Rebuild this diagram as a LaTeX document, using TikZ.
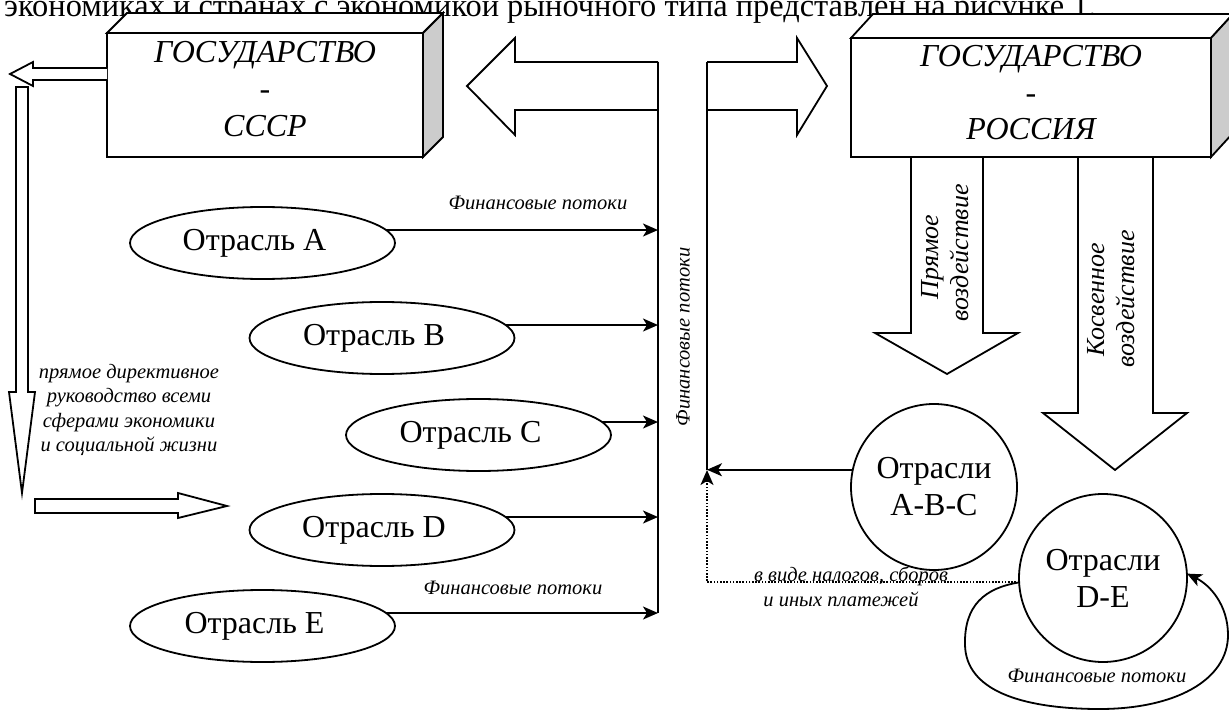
\documentclass[tikz,border=0pt]{standalone}
\usepackage{fontspec}
\setmainfont{Liberation Serif}
\usetikzlibrary{arrows.meta,shapes.geometric}
\definecolor{boxside}{gray}{0.80}
\newcommand\bigtext{\fontsize{32}{37}\selectfont}
\newcommand\smallit{\fontsize{20.5}{24.3}\selectfont\itshape}
\newcommand\sideit{\fontsize{26}{30}\selectfont\itshape}

\begin{document}
\begin{tikzpicture}[x=1pt,y=-1pt,line join=miter,
  outl/.style={draw=black,line width=1.8pt,fill=white},
  plain/.style={line width=1.8pt},
  conn/.style={line width=1.8pt,-{Stealth[length=15pt,width=13pt,inset=4pt]}},
  dots/.style={line width=1.9pt,dash pattern=on 1.6pt off 1.6pt,-{Stealth[length=15pt,width=13pt,inset=4pt]}},
  front/.style={draw,line width=1.8pt,fill=white,inner sep=0pt,outer sep=0pt},
  ell/.style={ellipse,draw,line width=1.8pt,outer sep=0pt,inner sep=0pt,
              minimum width=265pt,minimum height=72pt,font=\bigtext},
  circ/.style={circle,draw,line width=1.8pt,outer sep=0pt,inner sep=0pt,
               align=center,font=\bigtext},
  boxtxt/.style={inner sep=0pt,anchor=base,font=\bigtext\itshape},
  lbl/.style={inner sep=0pt,anchor=base,font=\smallit},
  rot/.style={inner sep=0pt,anchor=base,rotate=90,font=\sideit}]

\useasboundingbox (0,0) rectangle (1229,711);
\clip (0,0) rectangle (1229,711);

% line of running text above the figure
\node[anchor=base west,inner sep=0pt,font=\fontsize{32.4}{37}\selectfont] (intro) at (4,17)
  {экономиках и странах с экономикой рыночного типа представлен на рисунке 1.};

% ---------- state box: USSR ----------
\node[front,minimum width=316pt,minimum height=124pt] (ussr) at (265,95) {};
\draw[outl] (ussr.north west) -- ++(20,-20) -- ++(316,0) -- (ussr.north east) -- cycle;
\draw[outl,fill=boxside] (ussr.north east) -- ++(20,-20) -- ++(0,124) -- (ussr.south east) -- cycle;
\node[boxtxt] (ussr1) at (265,63) {ГОСУДАРСТВО};
\node[boxtxt] (ussr2) at (265,100) {-};
\node[boxtxt] (ussr3) at (265,137) {СССР};

% ---------- state box: Russia ----------
\node[front,minimum width=360pt,minimum height=119pt] (rus) at (1031,97.5) {};
\draw[outl] (rus.north west) -- ++(22,-24) -- ++(360,0) -- (rus.north east) -- cycle;
\draw[outl,fill=boxside] (rus.north east) -- ++(22,-24) -- ++(0,119) -- (rus.south east) -- cycle;
\node[boxtxt] (rus1) at (1031,67) {ГОСУДАРСТВО};
\node[boxtxt] (rus2) at (1031,104) {-};
\node[boxtxt] (rus3) at (1031,140) {РОССИЯ};

% ---------- hollow arrows of the directive economy ----------
\draw[outl] (ussr.west |- 0,68) -- (33,68) -- (33,62) -- (10,74) -- (33,86) -- (33,80) -- (ussr.west |- 0,80);
\draw[outl] (16,87) -- (28,87) -- (28,392) -- (35,392) -- (22,493) -- (9,392) -- (16,392) -- cycle;
\draw[outl] (35,499) -- (178,499) -- (178,493) -- (227,506) -- (178,518) -- (178,513) -- (35,513) -- cycle;
\node[inner sep=0pt,align=center,font=\smallit] (directive) at (129,410)
  {прямое директивное\\руководство всеми\\сферами экономики\\и социальной жизни};

% ---------- big hollow arrows at the top ----------
\coordinate (lx) at (658,0);
\coordinate (rx) at (707,0);
\coordinate (jn) at (707,470);
\draw[outl] (658,62) -- (515,62) -- (515,38) -- (467,86) -- (515,135) -- (515,110) -- (658,110);
\draw[outl] (707,62) -- (797,62) -- (797,38) -- (827,86) -- (797,135) -- (797,110) -- (707,110);

% collector lines
\draw[plain] (lx |- 0,62) -- (lx |- 0,613);
\draw[plain] (rx |- 0,62) -- (jn);
\node[inner sep=0pt,rotate=90,font=\smallit] (flowv) at (683,337) {Финансовые потоки};

% ---------- branches (labels sit a little left of centre) ----------
\node[ell] (A) at (262.5,243) {Отрасль A\hspace*{16pt}};
\node[ell] (B) at (382,338) {Отрасль B\hspace*{16pt}};
\node[ell] (C) at (478.5,435) {Отрасль C\hspace*{16pt}};
\node[ell] (D) at (382,530) {Отрасль D\hspace*{16pt}};
\node[ell] (E) at (262.5,626) {Отрасль E\hspace*{16pt}};
\foreach \n in {A,B,C,D,E}
  \draw[conn] (\n.6) -- (\n.6 -| lx);
\node[lbl] (flowA) at (538,210) {Финансовые потоки};
\node[lbl] (flowE) at (513,594) {Финансовые потоки};

% ---------- direct and indirect influence ----------
\draw[outl] (911,157) -- (911,333) -- (875,333) -- (947,374) -- (1018,333) -- (983,333) -- (983,157);
\draw[outl] (1078,157) -- (1078,413) -- (1043,413) -- (1115,470) -- (1187,413) -- (1153,413) -- (1153,157);
\draw[plain] (rus.south west) -- (rus.south east);
\node[rot] (pr1) at (938,257) {Прямое};
\node[rot] (pr2) at (968,253) {воздействие};
\node[rot] (ks1) at (1104,300) {Косвенное};
\node[rot] (ks2) at (1134,299) {воздействие};

\node[circ,minimum size=166pt] (ABC) at (934,487) {Отрасли\\A-B-C};
\node[circ,minimum size=168pt] (DE) at (1103,578) {Отрасли\\D-E};

\draw[conn] (ABC.168) -- (ABC.168 -| rx);
\draw[dots] (DE.183) -- (DE.183 -| rx) -- (jn);
\node[lbl] (tax1) at (851,581) {в виде налогов, сборов};
\node[lbl] (tax2) at (841,606) {и иных платежей};

\draw[conn] (DE.183) .. controls (985,588) and (964,605) .. (965,645)
  .. controls (966,690) and (1020,708) .. (1095,709)
  .. controls (1175,710) and (1228,680) .. (1228,635)
  .. controls (1228,605) and (1210,585) .. (DE.3);
\node[lbl] (flowDE) at (1097,682) {Финансовые потоки};

\end{tikzpicture}
\end{document}
